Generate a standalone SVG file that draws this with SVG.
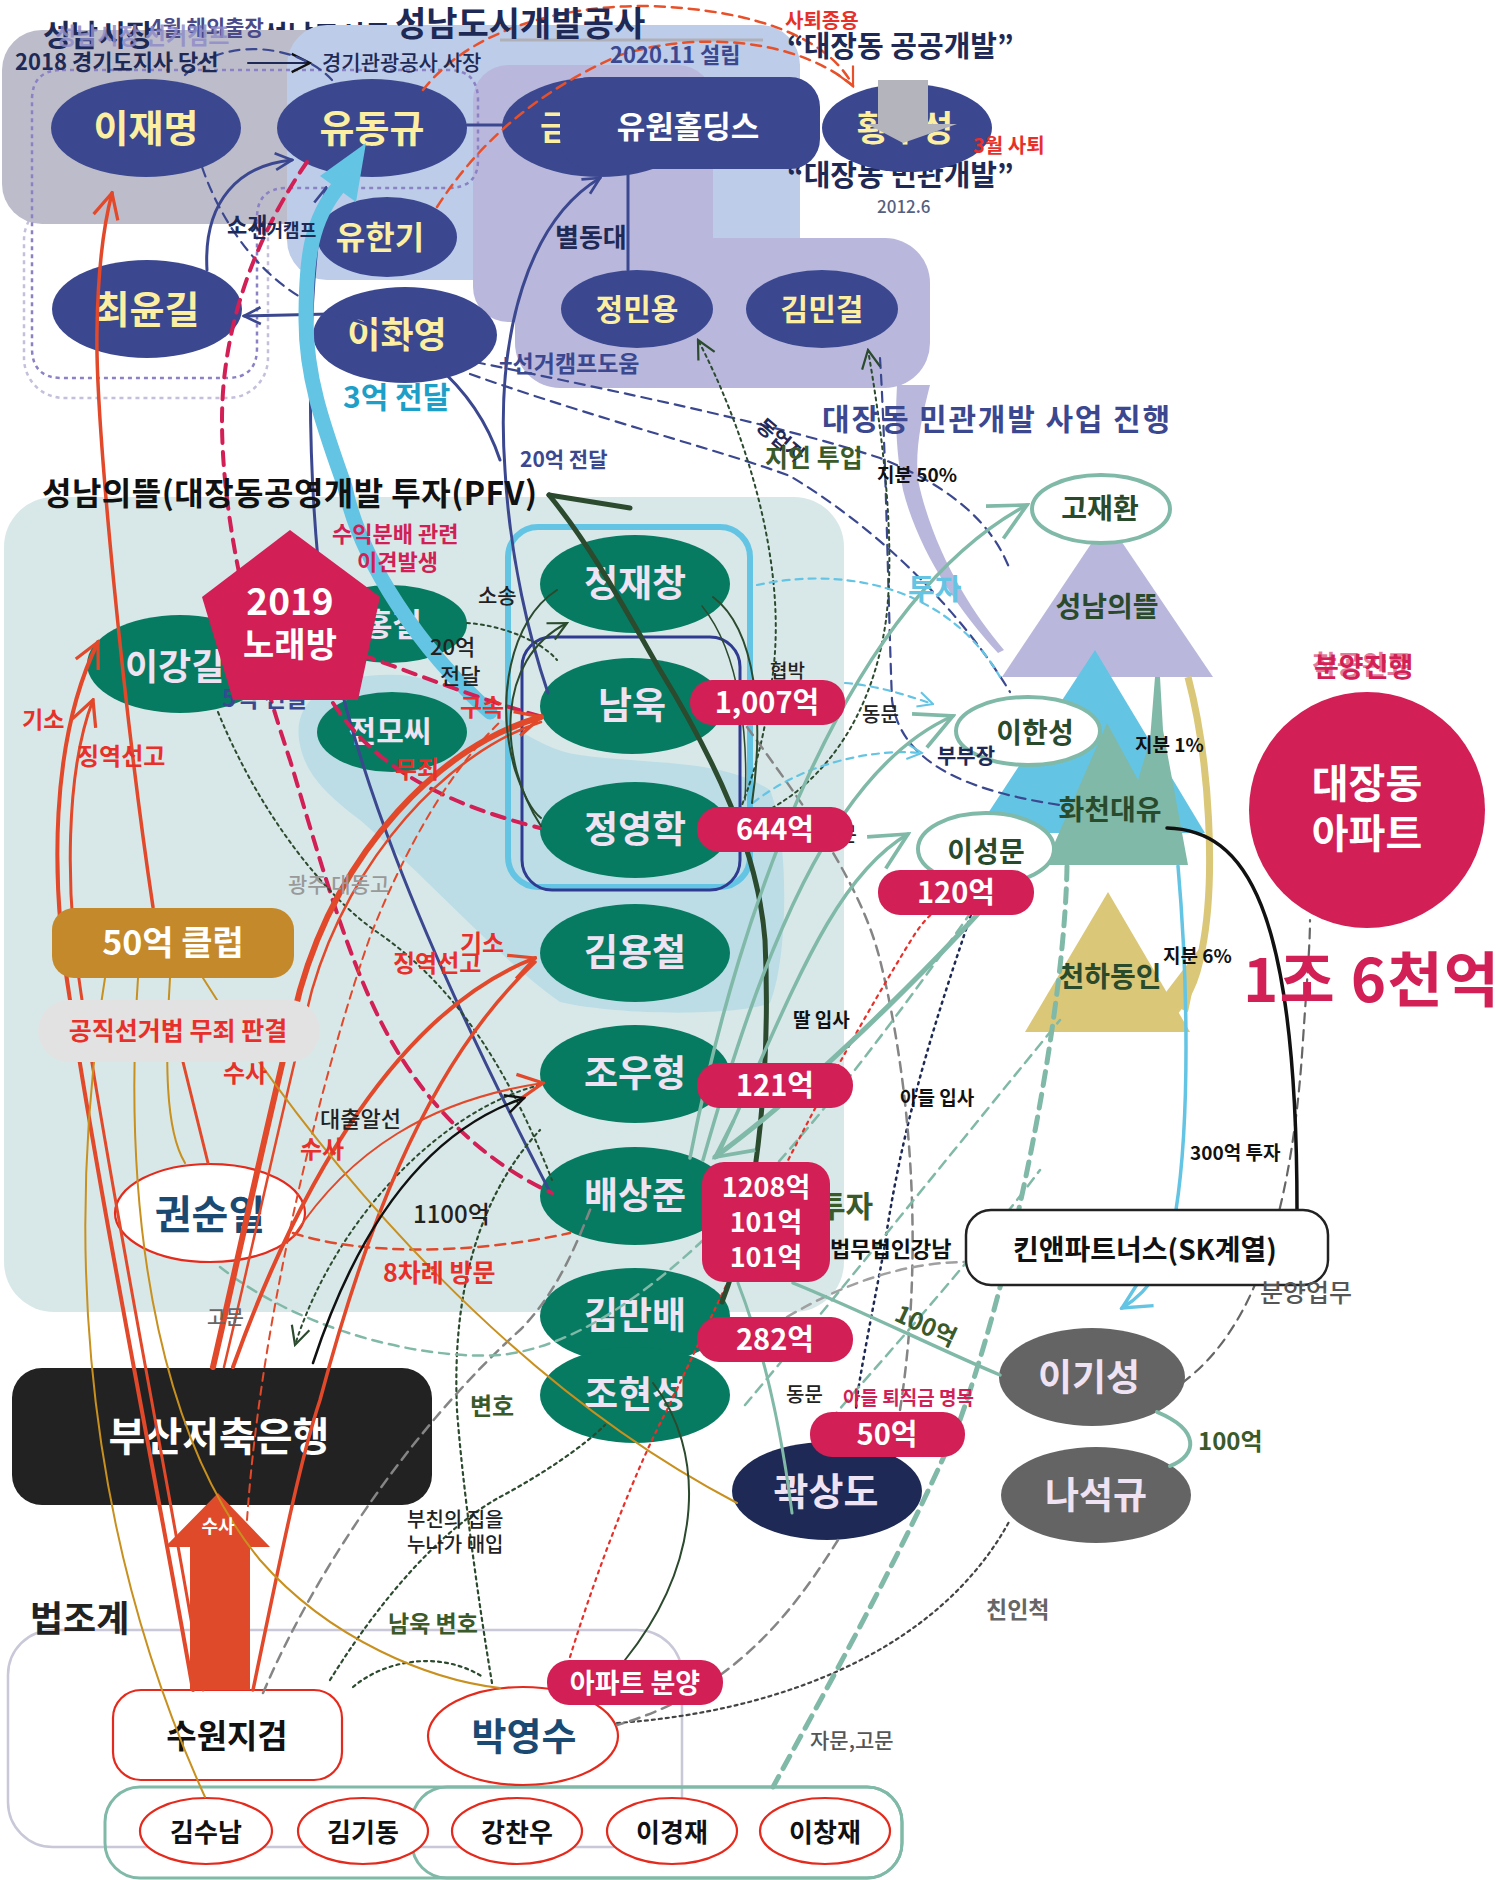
<svg xmlns="http://www.w3.org/2000/svg" width="1500" height="1880" viewBox="0 0 1500 1880">
<defs>
<style>
text{font-family:"Noto Sans CJK KR","Noto Sans",sans-serif}
.b{font-weight:700}
.m{font-weight:500}
.nv{fill:#3b4890}
.gn{fill:#077b61}
.gy{fill:#646464}
.pl{fill:#d21f55}
.yt{fill:#fcefa2;font-weight:700;text-anchor:middle}
.lt{fill:#efe2f2;font-weight:700;text-anchor:middle}
.wt{fill:#ffffff;font-weight:700;text-anchor:middle}
.wr{fill:#ffffff;stroke:#e42a1c;stroke-width:2.2}
.wg{fill:#ffffff;stroke:#80b9a7;stroke-width:4}
.bk{fill:#111;font-weight:700;text-anchor:middle}
.dg{fill:#2a4a2c;font-weight:700;text-anchor:middle}
.rd{fill:#e8302a;font-weight:700}
.cr{fill:#d21f55;font-weight:700}
.nvt{fill:#1e2a55;font-weight:700}
.bt{fill:#3b4890;font-weight:700}
.dk{fill:#222;font-weight:500}
.grt{fill:#666;font-weight:500}
.gnt{fill:#3a5a2a;font-weight:700}
.dash{stroke-dasharray:10 7}
.dot{stroke-dasharray:3 4}
</style>
<marker id="mNv" viewBox="0 0 12 12" refX="11" refY="6" markerWidth="20" markerHeight="20" orient="auto" markerUnits="userSpaceOnUse"><path d="M1,1 L11,6 L1,11" fill="none" stroke="#3b4890" stroke-width="1.6"/></marker>
<marker id="mOr" viewBox="0 0 12 12" refX="11" refY="6" markerWidth="30" markerHeight="30" orient="auto" markerUnits="userSpaceOnUse"><path d="M1,1 L11,6 L1,11" fill="none" stroke="#e2482a" stroke-width="1.3"/></marker>
<marker id="mOs" viewBox="0 0 12 12" refX="11" refY="6" markerWidth="22" markerHeight="22" orient="auto" markerUnits="userSpaceOnUse"><path d="M1,1 L11,6 L1,11" fill="none" stroke="#e8502a" stroke-width="1.2"/></marker>
<marker id="mTl" viewBox="0 0 12 12" refX="11" refY="6" markerWidth="44" markerHeight="44" orient="auto" markerUnits="userSpaceOnUse"><path d="M1,1 L11,6 L1,11" fill="none" stroke="#80b9a7" stroke-width="1"/></marker>
<marker id="mDg" viewBox="0 0 12 12" refX="11" refY="6" markerWidth="22" markerHeight="22" orient="auto" markerUnits="userSpaceOnUse"><path d="M1,1 L11,6 L1,11" fill="none" stroke="#2b4a2e" stroke-width="1.2"/></marker>
<marker id="mBk" viewBox="0 0 12 12" refX="11" refY="6" markerWidth="22" markerHeight="22" orient="auto" markerUnits="userSpaceOnUse"><path d="M1,1 L11,6 L1,11" fill="none" stroke="#111" stroke-width="1.3"/></marker>
<marker id="mCy" viewBox="0 0 12 12" refX="11" refY="6" markerWidth="34" markerHeight="34" orient="auto" markerUnits="userSpaceOnUse"><path d="M1,1 L11,6 L1,11" fill="none" stroke="#64c4e4" stroke-width="1.2"/></marker>
<marker id="mCs" viewBox="0 0 12 12" refX="11" refY="6" markerWidth="18" markerHeight="18" orient="auto" markerUnits="userSpaceOnUse"><path d="M1,1 L11,6 L1,11" fill="none" stroke="#64c4e4" stroke-width="1.4"/></marker>
</defs>

<rect width="1500" height="1880" fill="#ffffff"/>

<text x="262" y="46" font-size="28" class="nvt">성남도시공사</text>

<g id="regions">
<rect x="24" y="200" width="244" height="198" rx="40" fill="none" stroke="#c4c0dc" stroke-width="2.5" stroke-dasharray="4 4"/>
<rect x="2" y="30" width="420" height="194" rx="40" fill="#bdbccb"/>
<rect x="287" y="25" width="513" height="255" rx="40" fill="#bccce9"/>
<rect x="473" y="65" width="240" height="257" rx="35" fill="#b9b8dc"/>
<rect x="515" y="238" width="415" height="150" rx="45" fill="#b9b8dc"/>
<path d="M897,385 L930,385 C 921,420 915,450 918,480 C 933,550 970,610 1004,650 L998,653 C 958,610 918,550 903,490 C 896,450 895,420 897,385 Z" fill="#b9b8dc"/>
<rect x="4" y="497" width="840" height="815" rx="50" fill="#d8e8e8"/>
<path d="M300,745 C 290,700 330,672 400,675 C 470,680 520,748 580,755 C 650,765 720,758 770,790 C 790,840 788,960 770,1003 C 740,1016 620,1016 560,1002 C 500,960 430,880 360,820 C 320,790 305,770 300,745 Z" fill="#bcdde6"/>
<path d="M62,70 H448 Q478,70 478,100 V160 Q478,188 448,188 H287 Q257,188 257,218 V348 Q257,378 227,378 H62 Q32,378 32,348 V100 Q32,70 62,70 Z" fill="none" stroke="#8a82c4" stroke-width="2.5" stroke-dasharray="4 4"/>
<rect x="508" y="527" width="242" height="360" rx="30" fill="none" stroke="#64c4e4" stroke-width="6"/>
<rect x="522" y="637" width="218" height="253" rx="30" fill="none" stroke="#2f3b90" stroke-width="3"/>
<rect x="8" y="1630" width="674" height="217" rx="45" fill="none" stroke="#c8c8d8" stroke-width="2.5"/>
<rect x="105" y="1787" width="797" height="91" rx="35" fill="none" stroke="#80b9a7" stroke-width="3"/>
<rect x="412" y="1787" width="490" height="91" rx="35" fill="none" stroke="#80b9a7" stroke-width="3"/>
<line x1="500" y1="40" x2="763" y2="40" stroke="#b0b0b8" stroke-width="3"/>
</g>

<g id="n-sungnam-tri"><polygon points="1107,520 1002,677 1213,677" fill="#b9b8dc"/><text x="1107" y="617" font-size="28" class="dg">성남의뜰</text></g>
<g id="n-blue-tri"><polygon points="1095,650 975,833 1205,833" fill="#64c4e4"/></g>
<g id="n-hwacheon"><polygon points="1107,723 1138,780 1150,740 1155,677 1160,677 1163,730 1188,865 1045,865" fill="#80b9a7"/><text x="1110" y="820" font-size="28" class="dg">화천대유</text></g>
<g id="n-cheonha"><path d="M1188,677 C 1210,760 1216,880 1202,950 C 1196,985 1186,1000 1172,1015" fill="none" stroke="#dac778" stroke-width="7"/><polygon points="1202,945 1160,1000 1188,1012" fill="#dac778"/><polygon points="1108,892 1025,1032 1190,1032" fill="#dac778"/><text x="1110" y="987" font-size="28" class="dg">천하동인</text></g>

<text x="787" y="186" font-size="29" class="nvt">“대장동 민관개발”</text>

<g id="n-leejm"><ellipse cx="146" cy="128" rx="95" ry="49" class="nv"/><text x="146" y="142" font-size="38" class="yt">이재명</text></g>
<g id="n-yoodk"><ellipse cx="372" cy="128" rx="95" ry="49" class="nv"/><text x="372" y="142" font-size="38" class="yt">유동규</text></g>
<g id="n-yoohk"><ellipse cx="387" cy="237" rx="70" ry="40" class="nv"/><text x="380" y="249" font-size="32" class="yt">유한기</text></g>
<g id="n-choiyk"><ellipse cx="147" cy="309" rx="95" ry="49" class="nv"/><text x="147" y="323" font-size="38" class="yt">최윤길</text></g>
<g id="n-leehy"><ellipse cx="405" cy="335" rx="92" ry="48" class="nv"/><text x="397" y="348" font-size="36" class="yt">이화영</text></g>
<g id="n-yuwon"><ellipse cx="600" cy="127" rx="98" ry="50" class="nv"/><text x="540" y="140" font-size="34" class="yt" style="text-anchor:start">금</text><rect x="560" y="77" width="260" height="92" rx="30" class="nv"/><text x="688" y="138" font-size="31" class="wt">유원홀딩스</text></g>
<g id="n-hwang"><ellipse cx="907" cy="128" rx="85" ry="44" class="nv"/><text x="905" y="141" font-size="35" class="yt">황무성</text><polygon points="878,80 928,80 928,124 957,124 903,143 867,124 878,124" fill="#b4b4bc"/></g>
<g id="n-jungmy"><ellipse cx="637" cy="309" rx="76" ry="39" class="nv"/><text x="637" y="320" font-size="30" class="yt">정민용</text></g>
<g id="n-kimmg"><ellipse cx="822" cy="309" rx="76" ry="39" class="nv"/><text x="822" y="320" font-size="30" class="yt">김민걸</text></g>

<g id="n-jjc"><ellipse cx="635" cy="584" rx="95" ry="49" class="gn"/><text x="635" y="597" font-size="37" class="lt">정재창</text></g>
<g id="n-namuk"><ellipse cx="632" cy="706" rx="92" ry="48" class="gn"/><text x="632" y="719" font-size="37" class="lt">남욱</text></g>
<g id="n-jyh"><ellipse cx="635" cy="830" rx="95" ry="48" class="gn"/><text x="635" y="843" font-size="37" class="lt">정영학</text></g>
<g id="n-kyc"><ellipse cx="635" cy="953" rx="95" ry="49" class="gn"/><text x="635" y="966" font-size="37" class="lt">김용철</text></g>
<g id="n-jwh"><ellipse cx="635" cy="1074" rx="95" ry="49" class="gn"/><text x="635" y="1087" font-size="37" class="lt">조우형</text></g>
<g id="n-bsj"><ellipse cx="635" cy="1196" rx="95" ry="49" class="gn"/><text x="635" y="1209" font-size="37" class="lt">배상준</text></g>
<g id="n-kmb"><ellipse cx="635" cy="1316" rx="95" ry="48" class="gn"/><text x="635" y="1329" font-size="37" class="lt">김만배</text></g>
<g id="n-jhs"><ellipse cx="635" cy="1395" rx="95" ry="48" class="gn"/><text x="635" y="1408" font-size="37" class="lt">조현성</text></g>
<g id="n-leekg"><ellipse cx="180" cy="664" rx="93" ry="49" class="gn"/><text x="125" y="680" font-size="36" class="lt" style="text-anchor:start">이강길</text></g>
<g id="n-hongc"><ellipse cx="390" cy="624" rx="77" ry="39" class="gn"/><text x="363" y="636" font-size="32" class="lt" style="text-anchor:start">홍철</text></g>
<g id="n-jeon"><ellipse cx="392" cy="732" rx="75" ry="40" class="gn"/><text x="390" y="742" font-size="30" class="lt">전모씨</text></g>

<g id="n-leeks"><ellipse cx="1092" cy="1377" rx="93" ry="49" class="gy"/><text x="1089" y="1391" font-size="37" class="lt">이기성</text></g>
<g id="n-nask"><ellipse cx="1096" cy="1495" rx="95" ry="48" class="gy"/><text x="1096" y="1509" font-size="37" class="lt">나석규</text></g>
<g id="n-kwak"><ellipse cx="827" cy="1491" rx="95" ry="49" fill="#1e2a55"/><text x="826" y="1505" font-size="38" class="lt">곽상도</text></g>
<g id="n-kwon"><ellipse cx="210" cy="1213" rx="95" ry="49" class="wr"/><text x="210" y="1229" font-size="40" class="b" fill="#1a4a72" text-anchor="middle">권순일</text></g>
<g id="n-busan"><rect x="12" y="1368" width="420" height="137" rx="30" fill="#222"/><text x="219" y="1451" font-size="40" class="wt">부산저축은행</text></g>
<g id="n-suwon"><rect x="113" y="1690" width="229" height="90" rx="28" class="wr"/><text x="227" y="1748" font-size="33" class="bk">수원지검</text></g>
<g id="n-park"><ellipse cx="523" cy="1736" rx="95" ry="49" class="wr"/><text x="524" y="1750" font-size="38" class="b" fill="#1a4a72" text-anchor="middle">박영수</text></g>
<g id="n-ksn"><ellipse cx="206" cy="1831" rx="66" ry="33" class="wr"/><text x="206" y="1842" font-size="26" class="bk">김수남</text></g>
<g id="n-kkd"><ellipse cx="363" cy="1831" rx="65" ry="33" class="wr"/><text x="363" y="1842" font-size="26" class="bk">김기동</text></g>
<g id="n-kcw"><ellipse cx="517" cy="1831" rx="65" ry="33" class="wr"/><text x="517" y="1842" font-size="26" class="bk">강찬우</text></g>
<g id="n-lkj"><ellipse cx="672" cy="1831" rx="65" ry="33" class="wr"/><text x="672" y="1842" font-size="26" class="bk">이경재</text></g>
<g id="n-lcj"><ellipse cx="825" cy="1831" rx="65" ry="33" class="wr"/><text x="825" y="1842" font-size="26" class="bk">이창재</text></g>
<g id="n-apt"><circle cx="1367" cy="810" r="118" fill="#d21f55"/><text x="1367" y="798" font-size="40" class="wt">대장동</text><text x="1367" y="848" font-size="40" class="wt">아파트</text></g>

<g id="connectors" fill="none" stroke-linecap="round">
<path d="M248,63 L310,63" stroke="#1e2a55" stroke-width="2" marker-end="url(#mBk)"/>
<path d="M423,90 C 470,30 560,5 650,6 C 760,10 830,40 853,86" stroke="#e8502a" stroke-width="2.5" class="dash" marker-end="url(#mOs)"/>
<path d="M437,207 C 480,140 540,90 620,55 C 700,30 800,40 853,86" stroke="#e8502a" stroke-width="2.5" class="dash"/>
<path d="M185,75 C 225,35 300,45 332,80" stroke="#3b4890" stroke-width="2.2" class="dash"/>
<path d="M202,167 C 222,225 262,280 315,305" stroke="#3b4890" stroke-width="2.2" class="dash"/>
<path d="M475,362 C 620,392 780,425 880,458 C 960,490 995,530 1010,570" stroke="#3b4890" stroke-width="2.2" class="dash"/>
<path d="M470,374 C 600,420 720,450 790,476 C 880,530 960,610 1010,692" stroke="#3b4890" stroke-width="2.2" class="dash"/>
<path d="M880,358 C 886,450 888,600 892,700 C 900,760 960,790 1060,805" stroke="#3b4890" stroke-width="2.2" class="dash"/>
<path d="M975,902 C 950,980 905,1100 884,1250 C 865,1350 856,1395 856,1412" stroke="#1e2a55" stroke-width="2.5" stroke-dasharray="2 5"/>

<path d="M467,125 L502,125" stroke="#3b4890" stroke-width="3"/>
<path d="M628,168 L628,270" stroke="#3b4890" stroke-width="3"/>
<path d="M548,693 C 530,640 510,560 505,470 C 495,330 530,220 600,178" stroke="#3b4890" stroke-width="3" marker-end="url(#mNv)"/>
<path d="M207,270 C 203,200 240,165 292,160" stroke="#3b4890" stroke-width="3" marker-end="url(#mNv)"/>
<path d="M500,460 C 475,385 410,330 330,314 L244,316" stroke="#3b4890" stroke-width="3" marker-end="url(#mNv)"/>
<path d="M550,1192 C 430,960 335,740 318,560 C 306,430 308,270 326,188" stroke="#3b4890" stroke-width="3" marker-end="url(#mNv)"/>

<path d="M490,712 C 420,650 360,560 345,487 C 325,430 306,380 306,320 C 306,260 310,220 340,185" stroke="#64c4e4" stroke-width="15"/>
<polygon points="366,143 320,176 356,202" fill="#64c4e4" stroke="none"/>

<path d="M307,162 C 260,230 222,320 222,420 C 222,520 250,640 290,760 C 320,860 345,950 380,1020 C 420,1100 480,1160 552,1193" stroke="#d21f55" stroke-width="4" stroke-dasharray="13 9"/>
<path d="M362,655 C 420,675 480,700 543,717" stroke="#d21f55" stroke-width="4" stroke-dasharray="13 9"/>
<path d="M333,703 C 370,760 430,800 540,828" stroke="#d21f55" stroke-width="4" stroke-dasharray="13 9"/>

<path d="M218,712 C 262,820 330,900 377,932 C 450,982 505,1060 552,1180" stroke="#2b4a2e" stroke-width="2" class="dot"/>
<path d="M467,623 C 500,625 540,640 557,660" stroke="#2b4a2e" stroke-width="2" class="dot"/>
<path d="M732,830 C 744,800 762,760 772,680 C 790,560 740,420 698,340" stroke="#2b4a2e" stroke-width="2" class="dot" marker-end="url(#mDg)"/>
<path d="M772,808 C 822,780 872,720 886,620 C 896,540 882,430 868,350" stroke="#2b4a2e" stroke-width="2" class="dot" marker-end="url(#mDg)"/>
<path d="M540,1085 C 440,1110 335,1220 295,1345" stroke="#2b4a2e" stroke-width="2" class="dot" marker-end="url(#mDg)"/>
<path d="M330,1680 C 380,1600 440,1530 500,1497 C 545,1473 585,1445 605,1425" stroke="#2b4a2e" stroke-width="2.2" class="dot"/>
<path d="M353,1687 C 385,1660 440,1650 483,1677" stroke="#2b4a2e" stroke-width="2.2" class="dot"/>
<path d="M492,1683 C 478,1600 462,1480 457,1410 C 452,1300 475,1200 540,1130" stroke="#2b4a2e" stroke-width="2.2" class="dot"/>
<path d="M617,1723 C 780,1712 940,1650 1010,1520" stroke="#444" stroke-width="2.2" class="dot"/>

<path d="M263,1693 C 320,1560 420,1420 520,1330 C 560,1290 580,1235 592,1205" stroke="#858585" stroke-width="2.5" class="dash"/>
<path d="M838,1540 C 800,1600 740,1690 617,1725" stroke="#858585" stroke-width="2.5" class="dash"/>
<path d="M1182,1383 C 1240,1340 1290,1250 1303,1040 C 1307,980 1310,945 1310,920" stroke="#666" stroke-width="2.2" class="dash"/>
<path d="M747,727 C 800,800 860,880 880,960 C 910,1080 925,1250 900,1410" stroke="#858585" stroke-width="2.5" class="dash"/>
<path d="M787,1317 C 850,1280 910,1262 966,1262" stroke="#a0a0a0" stroke-width="2.5" class="dash"/>

<path d="M1067,866 C 1065,1000 1020,1250 960,1420 C 900,1560 820,1700 773,1787" stroke="#80b9a7" stroke-width="5" stroke-dasharray="14 9"/>
<path d="M220,1267 C 300,1330 420,1360 500,1355 C 650,1340 820,1130 990,885" stroke="#80b9a7" stroke-width="2.5" class="dash"/>
<path d="M745,1405 C 850,1280 970,1130 1060,1020" stroke="#80b9a7" stroke-width="2.5" class="dash"/>
<path d="M830,1420 C 900,1340 980,1250 1040,1170" stroke="#80b9a7" stroke-width="2.5" class="dash"/>

<path d="M757,585 C 850,565 950,590 1000,677" stroke="#64c4e4" stroke-width="2.2" stroke-dasharray="7 6"/>
<path d="M845,683 C 880,686 905,695 933,704" stroke="#64c4e4" stroke-width="2.2" stroke-dasharray="7 6" marker-end="url(#mCs)"/>
<path d="M753,803 C 800,765 870,748 922,753" stroke="#64c4e4" stroke-width="2.2" stroke-dasharray="7 6" marker-end="url(#mCs)"/>

<path d="M570,1657 C 600,1560 640,1460 667,1410 C 720,1300 800,1120 913,937 C 925,918 935,910 945,905" stroke="#e8302a" stroke-width="2.2" stroke-dasharray="3 5"/>

<path d="M153,907 C 125,720 95,420 97,330 C 98,260 105,220 112,193" stroke="#e2482a" stroke-width="3.5" marker-end="url(#mOr)"/>
<path d="M193,1690 C 160,1500 100,1200 70,1000 C 50,880 50,740 98,642" stroke="#e2482a" stroke-width="4" marker-end="url(#mOr)"/>
<path d="M203,1690 C 172,1500 112,1200 82,1000 C 64,890 66,770 93,700" stroke="#e2482a" stroke-width="3" marker-end="url(#mOr)"/>
<path d="M213,1367 C 240,1250 270,1110 300,990 C 340,850 440,745 541,717" stroke="#e2482a" stroke-width="6" marker-end="url(#mOr)"/>
<path d="M224,1367 C 252,1250 282,1110 312,990 C 350,858 448,752 541,722" stroke="#e2482a" stroke-width="2.5"/>
<path d="M233,1367 C 300,1180 400,1010 535,958" stroke="#e2482a" stroke-width="4" marker-end="url(#mOr)"/>
<path d="M253,1690 C 280,1560 300,1460 320,1400 C 360,1250 420,1070 535,962" stroke="#e2482a" stroke-width="3.5"/>
<path d="M293,1237 C 350,1150 430,1100 543,1083" stroke="#e2482a" stroke-width="2" marker-end="url(#mOr)"/>
<path d="M293,1233 C 360,1255 470,1255 570,1233" stroke="#e2482a" stroke-width="2.5" class="dash"/>
<path d="M183,1062 L208,1163" stroke="#e2482a" stroke-width="3"/>
<path d="M247,1520 C 262,1300 330,1050 370,937 C 400,860 445,775 500,722" stroke="#e2482a" stroke-width="2" stroke-dasharray="8 6"/>
<polygon points="218,1493 270,1547 250,1547 250,1690 190,1690 190,1547 165,1547" fill="#df4a2a" stroke="none"/>

<path d="M105,978 C 70,1200 70,1500 205,1797" stroke="#c8901e" stroke-width="2"/>
<path d="M138,978 C 120,1250 170,1450 260,1560 C 330,1640 430,1680 500,1688" stroke="#c8901e" stroke-width="2"/>
<path d="M170,978 C 165,1060 165,1130 185,1163" stroke="#c8901e" stroke-width="2"/>
<path d="M203,978 C 330,1180 520,1390 737,1503" stroke="#c8901e" stroke-width="2"/>

<path d="M722,1302 C 762,1200 770,1050 765,940 C 758,850 715,760 660,670 C 620,600 590,545 549,495" stroke="#2b4a2e" stroke-width="5"/>
<path d="M549,495 L630,508" stroke="#2b4a2e" stroke-width="5"/>
<path d="M653,1383 C 705,1450 705,1560 625,1660" stroke="#2b4a2e" stroke-width="2"/>
<path d="M557,590 C 510,620 495,700 515,770 C 525,800 533,812 541,818" stroke="#2b4a2e" stroke-width="2"/>
<path d="M541,826 C 498,760 495,660 567,623" stroke="#2b4a2e" stroke-width="2" marker-end="url(#mDg)"/>
<path d="M713,597 C 757,630 764,720 752,803" stroke="#2b4a2e" stroke-width="2"/>
<path d="M702,606 C 742,655 748,745 745,800" stroke="#2b4a2e" stroke-width="1.5"/>
<path d="M313,1363 C 360,1220 430,1130 524,1098" stroke="#111" stroke-width="2.5" marker-end="url(#mBk)"/>
<path d="M1167,828 C 1245,830 1297,905 1297,1210" stroke="#111" stroke-width="3.5"/>

<path d="M690,1158 C 740,900 850,600 1027,505" stroke="#80b9a7" stroke-width="3.5" marker-end="url(#mTl)"/>
<path d="M703,1160 C 760,960 830,770 953,716" stroke="#80b9a7" stroke-width="3.5" marker-end="url(#mTl)"/>
<path d="M717,1157 C 790,1000 830,880 908,834" stroke="#80b9a7" stroke-width="3.5" marker-end="url(#mTl)"/>
<path d="M1037,846 C 960,940 820,1080 715,1157" stroke="#80b9a7" stroke-width="5" marker-end="url(#mTl)"/>
<path d="M793,1283 C 860,1310 940,1350 1000,1375" stroke="#80b9a7" stroke-width="3.5"/>
<path d="M1157,1412 C 1200,1430 1198,1455 1170,1466" stroke="#80b9a7" stroke-width="4"/>
<path d="M738,1283 C 760,1340 780,1420 792,1513" stroke="#80b9a7" stroke-width="3"/>
<path d="M1178,866 C 1188,980 1190,1120 1176,1210 C 1168,1262 1152,1290 1122,1308" stroke="#64c4e4" stroke-width="3.5" marker-end="url(#mCy)"/>
</g>

<g id="n-gojh"><ellipse cx="1101" cy="509" rx="69" ry="34" class="wg"/><text x="1100" y="519" font-size="28" class="dg">고재환</text></g>
<g id="n-leehs"><ellipse cx="1028" cy="731" rx="72" ry="34" class="wg"/><text x="1035" y="743" font-size="28" class="dg">이한성</text></g>
<g id="n-leesm"><ellipse cx="986" cy="849" rx="68" ry="36" class="wg"/><text x="986" y="862" font-size="28" class="dg">이성문</text></g>
<g id="n-kin"><rect x="966" y="1210" width="362" height="75" rx="25" fill="#fff" stroke="#222" stroke-width="2.5"/><text x="1013" y="1260" font-size="28" class="b" fill="#111">킨앤파트너스(SK계열)</text></g>
<g id="n-club50"><rect x="52" y="908" width="242" height="70" rx="22" fill="#c4892a"/><text x="173" y="955" font-size="34" class="wt">50억 클럽</text></g>
<g id="n-verdict"><rect x="38" y="1000" width="282" height="62" rx="31" fill="#e2e2e2"/><text x="178" y="1040" font-size="25" class="rd" text-anchor="middle">공직선거법 무죄 판결</text></g>
<text x="222" y="707" font-size="24" class="bt">5억 전달</text>
<g id="n-karaoke"><polygon points="290,530 380,597 358,700 233,700 202,597" fill="#d21f55"/><text x="290" y="615" font-size="37" class="wt">2019</text><text x="290" y="657" font-size="34" class="wt">노래방</text></g>
<g id="p-1007"><rect x="690" y="680" width="155" height="45" rx="22" class="pl"/><text x="767" y="713" font-size="29" class="wt">1,007억</text></g>
<g id="p-644"><text x="820" y="842" font-size="20" class="dk">동문</text><rect x="697" y="807" width="156" height="45" rx="22" class="pl"/><text x="775" y="840" font-size="29" class="wt">644억</text></g>
<g id="p-120"><rect x="878" y="870" width="156" height="45" rx="22" class="pl"/><text x="956" y="903" font-size="29" class="wt">120억</text></g>
<g id="p-121"><rect x="697" y="1063" width="156" height="45" rx="22" class="pl"/><text x="775" y="1096" font-size="29" class="wt">121억</text></g>
<text x="818" y="1217" font-size="30" class="gnt">투자</text>
<g id="p-1208"><rect x="702" y="1162" width="128" height="120" rx="22" class="pl"/><text x="766" y="1197" font-size="27" class="wt">1208억</text><text x="766" y="1232" font-size="27" class="wt">101억</text><text x="766" y="1267" font-size="27" class="wt">101억</text></g>
<g id="p-282"><rect x="697" y="1317" width="156" height="45" rx="22" class="pl"/><text x="775" y="1350" font-size="29" class="wt">282억</text></g>
<g id="p-50"><rect x="810" y="1412" width="155" height="45" rx="22" class="pl"/><text x="887" y="1445" font-size="29" class="wt">50억</text></g>
<g id="p-apt"><rect x="547" y="1660" width="176" height="45" rx="22" class="pl"/><text x="635" y="1693" font-size="27" class="wt">아파트 분양</text></g>
<text x="218" y="1533" font-size="18" class="wt">수사</text>

<g id="labels">
<text x="43" y="46" font-size="30" class="nvt">성남시장</text>
<text x="150" y="35" font-size="21" class="b" fill="#4a4a8a">4월 해외출장</text>
<text x="55" y="44" font-size="23" class="b" fill="#8f8cc8" fill-opacity="0.85">성남시장 선거캠프</text>
<text x="395" y="36" font-size="34" class="nvt">성남도시개발공사</text>
<text x="15" y="70" font-size="22" class="b" fill="#1e2a55">2018 경기도지사 당선</text>
<text x="322" y="70" font-size="21" class="m" fill="#1e2a55">경기관광공사 사장</text>
<text x="610" y="63" font-size="22" class="bt">2020.11 설립</text>
<text x="785" y="28" font-size="20" class="rd">사퇴종용</text>
<text x="787" y="57" font-size="29" class="nvt">“대장동 공공개발”</text>
<text x="973" y="153" font-size="20" class="rd">3월 사퇴</text>
<text x="877" y="213" font-size="17" class="m" fill="#556080">2012.6</text>
<text x="555" y="247" font-size="26" class="nvt">별동대</text>
<text x="227" y="233" font-size="22" class="nvt">소개</text>
<text x="250" y="237" font-size="18" class="nvt">선거캠프</text>
<text x="499" y="372" font-size="23" class="bt">+선거캠프도움</text>
<text x="343" y="408" font-size="30" class="b" fill="#1e9fc8">3억 전달</text>
<text x="520" y="467" font-size="21" class="bt">20억 전달</text>
<text x="822" y="430" font-size="30" class="bt" textLength="348">대장동 민관개발 사업 진행</text>
<text x="755" y="428" font-size="20" class="nvt" transform="rotate(40 755 428)">동업자</text>
<text x="765" y="467" font-size="25" class="gnt">지인 투입</text>
<text x="877" y="482" font-size="19" class="b" fill="#111">지분 50%</text>
<text x="42" y="505" font-size="32" class="b" fill="#111" textLength="495">성남의뜰(대장동공영개발 투자(PFV)</text>
<text x="332" y="542" font-size="22" class="cr">수익분배 관련</text>
<text x="357" y="570" font-size="22" class="cr">이견발생</text>
<text x="478" y="603" font-size="21" class="dk">소송</text>
<text x="430" y="655" font-size="22" class="dk">20억</text>
<text x="440" y="684" font-size="22" class="dk">전달</text>
<text x="460" y="716" font-size="24" class="rd">구속</text>
<text x="395" y="778" font-size="24" class="rd">무죄</text>
<text x="22" y="728" font-size="23" class="rd">기소</text>
<text x="77" y="765" font-size="24" class="rd">징역선고</text>
<text x="288" y="892" font-size="21" class="m" fill="#999">광주 대동고</text>
<text x="460" y="952" font-size="24" class="rd">기소</text>
<text x="393" y="972" font-size="24" class="rd">징역선고</text>
<text x="770" y="678" font-size="19" class="dk">협박</text>
<text x="862" y="722" font-size="20" class="dk">동문</text>
<text x="908" y="600" font-size="29" class="b" fill="#64c4e4">투자</text>
<text x="937" y="763" font-size="21" class="nvt">부부장</text>
<text x="1135" y="752" font-size="19" class="b" fill="#111">지분 1%</text>
<text x="1314" y="677" font-size="27" class="cr">분양진행</text>
<text x="1312" y="675" font-size="27" class="cr" fill-opacity="0.6">착공완료</text>
<text x="793" y="1027" font-size="19" class="b" fill="#111">딸 입사</text>
<text x="900" y="1105" font-size="19" class="b" fill="#111">아들 입사</text>
<text x="830" y="1257" font-size="22" class="b" fill="#111">법무법인강남</text>
<text x="893" y="1320" font-size="24" class="gnt" transform="rotate(25 893 1320)">100억</text>
<text x="786" y="1402" font-size="20" class="dk">동문</text>
<text x="843" y="1405" font-size="19" class="cr">아들 퇴직금 명목</text>
<text x="1198" y="1450" font-size="24" class="gnt">100억</text>
<text x="1163" y="963" font-size="19" class="b" fill="#111">지분 6%</text>
<text x="1243" y="1002" font-size="60" class="cr" textLength="256">1조 6천억</text>
<text x="1190" y="1160" font-size="19" class="b" fill="#111">300억 투자</text>
<text x="1260" y="1302" font-size="25" class="m" fill="#555">분양업무</text>
<text x="986" y="1618" font-size="23" class="b" fill="#666">친인척</text>
<text x="810" y="1748" font-size="21" class="m" fill="#555">자문,고문</text>
<text x="320" y="1127" font-size="22" class="dk">대출알선</text>
<text x="223" y="1082" font-size="24" class="rd">수사</text>
<text x="300" y="1158" font-size="24" class="rd">수사</text>
<text x="413" y="1223" font-size="24" class="dk">1100억</text>
<text x="383" y="1282" font-size="25" class="rd">8차례 방문</text>
<text x="207" y="1325" font-size="20" class="grt">고문</text>
<text x="470" y="1415" font-size="24" class="gnt">변호</text>
<text x="407" y="1527" font-size="20" class="dk">부친의 집을</text>
<text x="407" y="1552" font-size="20" class="dk">누나가 매입</text>
<text x="388" y="1632" font-size="23" class="gnt">남욱 변호</text>
<text x="30" y="1632" font-size="36" class="b" fill="#222">법조계</text>
</g>
</svg>
